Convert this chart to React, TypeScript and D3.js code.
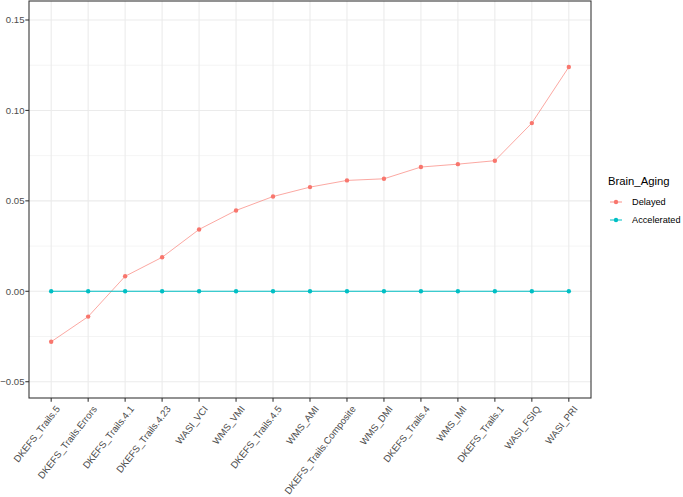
import * as d3 from "d3";
import { useRef, useEffect } from "react";

const categories = [
  "DKEFS_Trails.5",
  "DKEFS_Trails.Errors",
  "DKEFS_Trails.4.1",
  "DKEFS_Trails.4.23",
  "WASI_VCI",
  "WMS_VMI",
  "DKEFS_Trails.4.5",
  "WMS_AMI",
  "DKEFS_Trails.Composite",
  "WMS_DMI",
  "DKEFS_Trails.4",
  "WMS_IMI",
  "DKEFS_Trails.1",
  "WASI_FSIQ",
  "WASI_PRI",
];

const delayed = [
  -0.0279, -0.014, 0.0083, 0.0188, 0.0342, 0.0447, 0.0524, 0.0576, 0.0613,
  0.0622, 0.0687, 0.0703, 0.0722, 0.093, 0.124,
];

const accelerated = [0, 0, 0, 0, 0, 0, 0, 0, 0, 0, 0, 0, 0, 0, 0];

const seriesNames = ["Delayed", "Accelerated"];
const seriesColors = ["#F8766D", "#00BFC4"];

const majorTicks = [-0.05, 0, 0.05, 0.1, 0.15];
const minorTicks = [-0.025, 0.025, 0.075, 0.125];

const W = 683;
const H = 497;
const panel = { left: 29, right: 591, top: 1, bottom: 398 };

function App() {
  const ref = useRef<SVGSVGElement>(null);

  useEffect(() => {
    const svg = d3.select(ref.current);
    svg.selectAll("*").remove();

    const font = "'Liberation Sans', Arial, sans-serif";

    const x = d3
      .scalePoint()
      .domain(categories)
      .range([panel.left, panel.right])
      .padding(0.6);

    const y = d3
      .scaleLinear()
      .domain([-0.059, 0.1605])
      .range([panel.bottom, panel.top]);

    svg
      .append("rect")
      .attr("x", panel.left)
      .attr("y", panel.top)
      .attr("width", panel.right - panel.left)
      .attr("height", panel.bottom - panel.top)
      .attr("fill", "white");

    // minor grid
    svg
      .selectAll("line.minor")
      .data(minorTicks)
      .join("line")
      .attr("x1", panel.left)
      .attr("x2", panel.right)
      .attr("y1", (d) => y(d))
      .attr("y2", (d) => y(d))
      .attr("stroke", "#EBEBEB")
      .attr("stroke-width", 0.55);

    // major grid
    svg
      .selectAll("line.majorY")
      .data(majorTicks)
      .join("line")
      .attr("x1", panel.left)
      .attr("x2", panel.right)
      .attr("y1", (d) => y(d))
      .attr("y2", (d) => y(d))
      .attr("stroke", "#EBEBEB")
      .attr("stroke-width", 1.07);

    svg
      .append("g")
      .selectAll("line")
      .data(categories)
      .join("line")
      .attr("x1", (d) => x(d)!)
      .attr("x2", (d) => x(d)!)
      .attr("y1", panel.top)
      .attr("y2", panel.bottom)
      .attr("stroke", "#EBEBEB")
      .attr("stroke-width", 1.07);

    const series = [delayed, accelerated];
    series.forEach((vals, i) => {
      const line = d3
        .line<number>()
        .x((_, j) => x(categories[j])!)
        .y((d) => y(d));
      svg
        .append("path")
        .datum(vals)
        .attr("d", line)
        .attr("fill", "none")
        .attr("stroke", seriesColors[i])
        .attr("stroke-width", i === 0 ? 0.8 : 1.1)
        .attr("stroke-opacity", i === 0 ? 0.8 : 1);
      svg
        .append("g")
        .selectAll("circle")
        .data(vals)
        .join("circle")
        .attr("cx", (_, j) => x(categories[j])!)
        .attr("cy", (d) => y(d))
        .attr("r", 2.2)
        .attr("fill", seriesColors[i]);
    });

    // panel border
    svg
      .append("rect")
      .attr("x", panel.left)
      .attr("y", panel.top)
      .attr("width", panel.right - panel.left)
      .attr("height", panel.bottom - panel.top)
      .attr("fill", "none")
      .attr("stroke", "#333333")
      .attr("stroke-width", 1.07);

    // y axis
    const yAxis = svg.append("g");
    yAxis
      .selectAll("line")
      .data(majorTicks)
      .join("line")
      .attr("x1", panel.left - 3.7)
      .attr("x2", panel.left)
      .attr("y1", (d) => y(d))
      .attr("y2", (d) => y(d))
      .attr("stroke", "#333333")
      .attr("stroke-width", 1.07);
    yAxis
      .selectAll("text")
      .data(majorTicks)
      .join("text")
      .attr("x", panel.left - 4.5)
      .attr("y", (d) => y(d))
      .attr("dy", "0.35em")
      .attr("text-anchor", "end")
      .attr("font-family", font)
      .attr("font-size", 9.6)
      .attr("fill", "#4D4D4D")
      .text((d) => d3.format(".2f")(d));

    // x axis
    const xAxis = svg.append("g");
    xAxis
      .selectAll("line")
      .data(categories)
      .join("line")
      .attr("x1", (d) => x(d)!)
      .attr("x2", (d) => x(d)!)
      .attr("y1", panel.bottom)
      .attr("y2", panel.bottom + 3.7)
      .attr("stroke", "#333333")
      .attr("stroke-width", 1.07);
    xAxis
      .selectAll("text")
      .data(categories)
      .join("text")
      .attr(
        "transform",
        (d) => `translate(${x(d)! + 4},${panel.bottom + 7}) rotate(-52)`
      )
      .attr("dy", "0.7em")
      .attr("text-anchor", "end")
      .attr("font-family", font)
      .attr("font-size", 9.6)
      .attr("fill", "#4D4D4D")
      .text((d) => d);

    // legend
    const legend = svg.append("g").attr("transform", "translate(608,0)");
    legend
      .append("text")
      .attr("x", 0)
      .attr("y", 185)
      .attr("font-family", font)
      .attr("font-size", 11.3)
      .attr("fill", "black")
      .text("Brain_Aging");
    seriesNames.forEach((name, i) => {
      const cy = 202 + i * 18;
      legend
        .append("line")
        .attr("x1", 2)
        .attr("x2", 14)
        .attr("y1", cy)
        .attr("y2", cy)
        .attr("stroke", seriesColors[i])
        .attr("stroke-width", 1)
        .attr("stroke-opacity", i === 0 ? 0.8 : 1);
      legend
        .append("circle")
        .attr("cx", 8)
        .attr("cy", cy)
        .attr("r", 2.2)
        .attr("fill", seriesColors[i]);
      legend
        .append("text")
        .attr("x", 24)
        .attr("y", cy)
        .attr("dy", "0.35em")
        .attr("font-family", font)
        .attr("font-size", 9.2)
        .attr("fill", "black")
        .text(name);
    });
  }, []);

  return (
    <div style={{ position: "absolute", left: 0, top: 0 }}>
      <svg ref={ref} width={W} height={H} style={{ display: "block" }}></svg>
    </div>
  );
}

export default App;
